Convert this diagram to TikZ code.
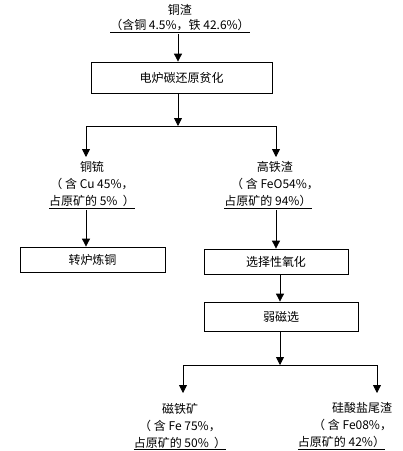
\documentclass[tikz,border=0pt]{standalone}
\usepackage{fontspec}
\setmainfont{Noto Sans CJK SC}
\usetikzlibrary{arrows.meta}

\begin{document}
\begin{tikzpicture}[x=1pt,y=-1pt,>={Triangle[length=8pt,width=8pt]},line cap=butt,process box/.style={draw,line width=0.8pt,minimum height=25pt,inner sep=0pt,font=\fontsize{12}{14}\selectfont},material text/.style={align=center,inner sep=1pt,font=\fontsize{12}{17}\selectfont},flow line/.style={line width=0.8pt}]
 \useasboundingbox (0,0) rectangle (403,451);

 % materials
 \node[material text,font=\fontsize{12}{15}\selectfont] (slag) at (180,18.5) {铜渣\\\underline{（含铜 4.5\%，铁 42.6\%）}};
 \node[material text] (matte) at (92,185) {铜锍\\（ 含 Cu 45\%，\\\underline{占原矿的 5\%\ \ ）}};
 \node[material text] (ironslag) at (275,185) {高铁渣\\（ 含 FeO54\%，\\\underline{占原矿的 94\%）}\hspace*{14pt}};
 \node[material text] (magnetite) at (180,426.5) {磁铁矿\\（ 含 Fe 75\%，\\\underline{占原矿的 50\%\ \ ）}};
 \node[material text,align=right] (tailing) at (345,426.5) {硅酸盐尾渣\\（ 含 Fe08\%，\\\underline{占原矿的 42\%）}\hspace*{7pt}};

 % processes
 \node[process box,minimum width=181pt,minimum height=31pt] (reduce) at (181.5,77.5) {电炉碳还原贫化};
 \node[process box,minimum width=145pt] (convert) at (92.5,259.5) {转炉炼铜};
 \node[process box,minimum width=144pt] (oxidize) at (276,261.5) {选择性氧化};
 \node[process box,minimum width=154pt,minimum height=29pt] (magsep) at (281,316.5) {弱磁选};

 % split points
 \coordinate (split1) at (178,126);
 \coordinate (left1) at (86,126);
 \coordinate (right1) at (276,126);
 \coordinate (matte in) at (86,157);
 \coordinate (ironslag in) at (276,157);
 \coordinate (split2) at (280,365);
 \coordinate (left2) at (183,365);
 \coordinate (right2) at (377,365);
 \coordinate (magnetite in) at (183,393);
 \coordinate (tailing in) at (377,393);

 \begin{scope}[flow line]
 \draw[->] (slag.south -| split1) -- (reduce.north -| split1);
 \draw[->] (reduce.south -| split1) -- (split1);
 \draw (left1) -- (right1);
 \draw[->] (left1) -- (matte in);
 \draw[->] (right1) -- (ironslag in);
 \draw[->] (matte.south -| left1) -- (convert.north -| left1);
 \draw[->] (ironslag.south -| right1) -- (oxidize.north -| right1);
 \draw[->] (oxidize.south -| split2) -- (magsep.north -| split2);
 \draw[->] (magsep.south -| split2) -- (split2);
 \draw (left2) -- (right2);
 \draw[->] (left2) -- (magnetite in);
 \draw[->] (right2) -- (tailing in);
 \end{scope}
\end{tikzpicture}
\end{document}
